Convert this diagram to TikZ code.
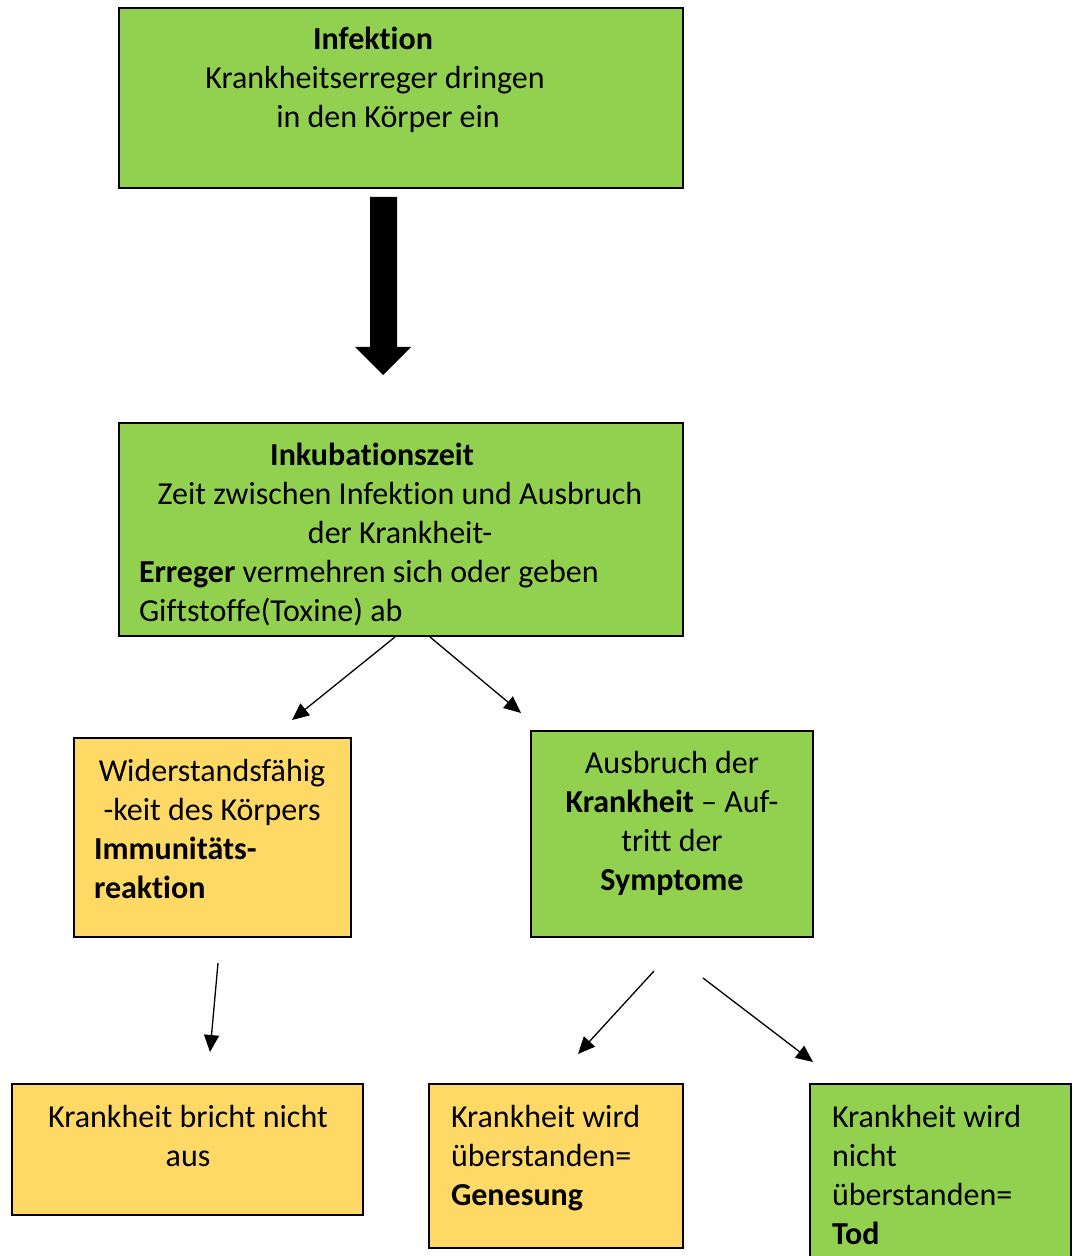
\documentclass[tikz,border=0pt]{standalone}
\usepackage{fontspec}
\setmainfont{Carlito}[Ligatures={NoCommon}, Contextuals={NoAlternate}]
\usetikzlibrary{arrows.meta}

\definecolor{kgruen}{HTML}{92D050}
\definecolor{kgelb}{HTML}{FFD966}

\begin{document}
\begin{tikzpicture}[x=0.5pt, y=-0.5pt, >={Triangle[length=8.5pt, width=7.5pt]},
  every node/.style={font=\fontsize{16}{19.5}\selectfont, inner sep=0pt, outer sep=0pt},
  gbox/.style={draw, line width=0.7pt, fill=kgruen, anchor=north west},
  ybox/.style={draw, line width=0.7pt, fill=kgelb, anchor=north west},
  pfeil/.style={->, line width=0.65pt}]
  \useasboundingbox (0,0) rectangle (1073,1256);
  \clip (0,0) rectangle (1073,1256);

  % Infektion
  \node[gbox, minimum width=282pt, minimum height=90pt] (inf) at (119,8) {};
  \node[anchor=base] (inf1) at (373,50) {\textbf{Infektion}};
  \node[anchor=base] (inf2) at (375,89) {Krankheitserreger dringen};
  \node[anchor=base] (inf3) at (388,128) {in den Körper ein};

  % dicker Pfeil
  \fill (370,197) -- (397,197) -- (397,347) -- (411,347) -- (383,375)
    -- (355,347) -- (370,347) -- cycle;

  % Inkubationszeit
  \node[gbox, minimum width=282pt, minimum height=106.5pt] (ink) at (119,423) {};
  \node[anchor=base] (ink1) at (372,465) {\textbf{Inkubationszeit}};
  \node[anchor=base] (ink2) at (400,504) {Zeit zwischen Infektion und Ausbruch};
  \node[anchor=base] (ink3) at (400,543) {der Krankheit-};
  \node[anchor=base west] (ink4) at (139,582) {\textbf{Erreger} vermehren sich oder geben};
  \node[anchor=base west] (ink5) at (139,621) {Giftstoffe(Toxine) ab};

  % zweite Reihe
  \node[ybox, minimum width=138.5pt, minimum height=99.5pt] (wid) at (74,738) {};
  \node[anchor=base] (wid1) at (212,781) {Widerstandsfähig};
  \node[anchor=base] (wid2) at (212,820) {-keit des Körpers};
  \node[anchor=base west] (wid3) at (94,859) {\textbf{Immunitäts-}};
  \node[anchor=base west] (wid4) at (94,898) {\textbf{reaktion}};

  \node[gbox, minimum width=141pt, minimum height=103pt] (aus) at (531,731) {};
  \node[anchor=base] (aus1) at (672,773) {Ausbruch der};
  \node[anchor=base] (aus2) at (672,812) {\textbf{Krankheit} – Auf-};
  \node[anchor=base] (aus3) at (672,851) {tritt der};
  \node[anchor=base] (aus4) at (672,890) {\textbf{Symptome}};

  % dritte Reihe
  \node[ybox, minimum width=175.5pt, minimum height=65.5pt] (nicht) at (12,1084) {};
  \node[anchor=base] (nicht1) at (188,1127) {Krankheit bricht nicht};
  \node[anchor=base] (nicht2) at (188,1166) {aus};

  \node[ybox, minimum width=127pt, minimum height=82pt] (gen) at (429,1084) {};
  \node[anchor=base west] (gen1) at (451,1127) {Krankheit wird};
  \node[anchor=base west] (gen2) at (451,1166) {überstanden=};
  \node[anchor=base west] (gen3) at (451,1205) {\textbf{Genesung}};

  \node[gbox, minimum width=130.5pt, minimum height=92pt] (tod) at (810,1084) {};
  \node[anchor=base west] (tod1) at (832,1127) {Krankheit wird};
  \node[anchor=base west] (tod2) at (832,1166) {nicht};
  \node[anchor=base west] (tod3) at (832,1205) {überstanden=};
  \node[anchor=base west] (tod4) at (832,1244) {\textbf{Tod}};

  % Pfeile
  \coordinate (p1a) at (395,637);
  \coordinate (p1b) at (292,720);
  \coordinate (p2a) at (430,637);
  \coordinate (p2b) at (521,713);
  \coordinate (p3a) at (218,963);
  \coordinate (p3b) at (210,1052);
  \coordinate (p4a) at (654,971);
  \coordinate (p4b) at (578,1054);
  \coordinate (p5a) at (703,978);
  \coordinate (p5b) at (813,1062);
  \draw[pfeil] (p1a) -- (p1b);
  \draw[pfeil] (p2a) -- (p2b);
  \draw[pfeil] (p3a) -- (p3b);
  \draw[pfeil] (p4a) -- (p4b);
  \draw[pfeil] (p5a) -- (p5b);
\end{tikzpicture}
\end{document}
